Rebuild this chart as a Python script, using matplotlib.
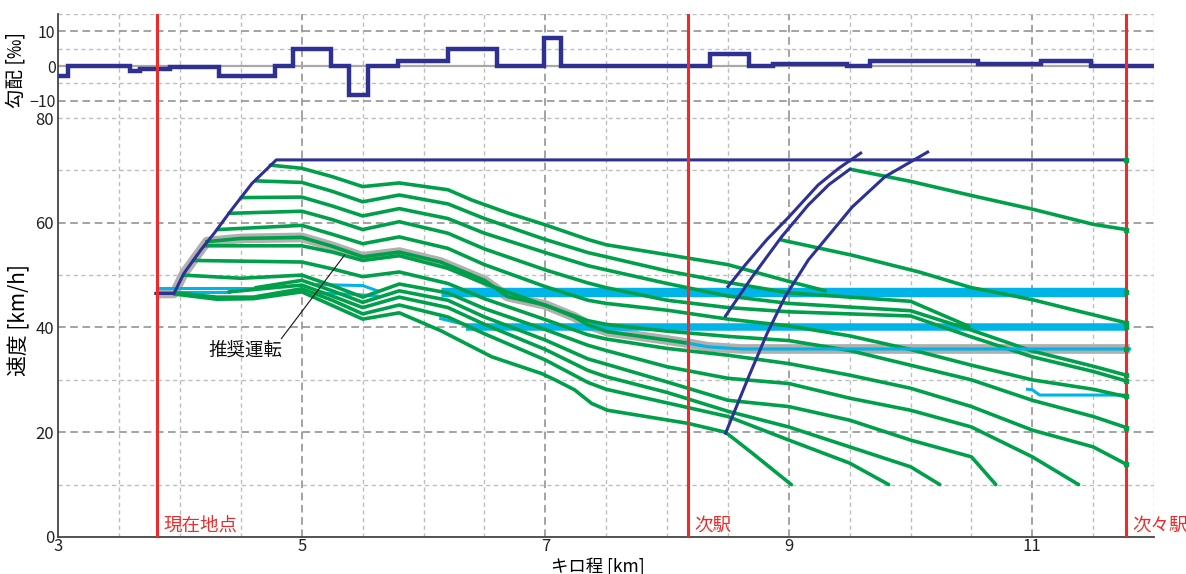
import matplotlib
matplotlib.use("Agg")
import matplotlib.pyplot as plt

plt.rcParams["font.family"] = ["Noto Sans CJK JP", "DejaVu Sans"]

# ---- colours ----
NAVY = "#2e3192"
GREEN = "#00a04a"
CYAN = "#00b4e8"
RED = "#ee2b2b"
HALO = "#b0b0b0"

# ---- gradient profile (step function, per mille) ----
GRAD_EDGES_KM = [3.0, 3.08, 3.59, 3.67, 3.92, 4.32, 4.78, 4.93, 5.24, 5.39, 5.54, 5.79,
                 6.20, 6.60, 6.99, 7.13, 8.35, 8.67, 8.87, 9.48, 9.67, 10.55, 11.07, 11.48, 12.0]
GRAD_PERMIL = [-3, 0, -1.5, -0.8, -0.3, -3, 0, 5, 0, -8.5, 0, 1.5,
               5, 0, 8, 0, 3.5, 0, 0.5, 0, 1.5, 0.5, 1.5, 0]

# ---- stations ----
STATION_KM = [3.81, 8.17, 11.77]
STATION_NAMES = ["現在地点", "次駅", "次々駅"]

# ---- speed limit / acceleration curve (navy) ----
LIMIT = [(3.80, 46.5), (3.95, 46.5), (4.03, 50.3), (4.17, 54.8), (4.28, 58.0),
         (4.42, 62.4), (4.59, 67.5), (4.79, 72.0), (11.77, 72.0)]
NAVY_A = [(8.50, 47.8), (8.64, 51.9), (8.82, 56.8), (9.00, 61.1), (9.24, 67.2), (9.41, 70.4),
          (9.59, 73.3)]
NAVY_B = [(8.48, 42.2), (8.70, 49.7), (8.94, 57.3), (9.16, 63.4), (9.33, 67.3), (9.50, 70.2)]
NAVY_C = [(8.48, 19.8), (8.67, 30.6), (8.82, 38.8), (8.97, 45.9), (9.16, 52.9), (9.52, 63.0),
          (9.79, 68.8), (10.14, 73.5)]

# ---- coasting curves (green) ----
U1 = [(4.74, 71.0), (5.0, 70.4), (5.25, 68.8), (5.5, 66.9), (5.8, 67.6), (6.2, 66.3), (6.4, 64.3),
      (6.7, 61.8), (7.0, 59.6), (7.35, 56.8), (7.5, 55.8), (8.0, 53.9), (8.5, 52.0), (9.0, 48.8),
      (9.3, 47.0)]
U2 = [(4.62, 68.0), (5.0, 67.7), (5.25, 66.0), (5.5, 64.0), (5.8, 65.3), (6.2, 63.6), (6.5, 60.8),
      (7.0, 56.8), (7.35, 54.3), (7.5, 53.5), (8.0, 50.8), (8.5, 48.6), (9.0, 46.6), (9.5, 45.8),
      (10.0, 45.0), (10.48, 40.2)]
U3 = [(4.50, 64.8), (5.0, 64.9), (5.25, 63.2), (5.5, 61.3), (5.8, 62.7), (6.2, 60.8), (6.5, 58.0),
      (7.0, 54.3), (7.35, 51.8), (7.5, 51.0), (8.0, 48.4), (8.5, 46.0), (9.0, 44.6), (9.5, 43.9),
      (10.0, 43.2), (10.5, 39.5), (11.0, 35.5), (11.5, 32.6), (11.77, 30.9)]
U4 = [(4.40, 61.8), (5.0, 62.2), (5.25, 60.6), (5.5, 58.7), (5.8, 60.2), (6.2, 58.0), (6.5, 55.0),
      (7.0, 51.0), (7.35, 48.5), (7.5, 47.6), (8.0, 45.2), (8.5, 43.8), (9.0, 43.0), (9.5, 42.6),
      (10.0, 42.2), (10.5, 38.2), (11.0, 34.4), (11.5, 31.6), (11.77, 29.8)]
U5 = [(4.31, 58.7), (5.0, 59.5), (5.25, 57.8), (5.5, 56.0), (5.8, 57.3), (6.2, 55.1), (6.5, 52.0),
      (7.0, 47.8), (7.35, 45.2), (7.5, 44.6), (8.0, 43.3), (8.5, 41.6), (9.0, 40.3), (9.5, 38.4),
      (10.0, 35.8), (10.5, 32.8), (11.0, 30.0), (11.5, 28.2), (11.77, 26.8)]
U7 = [(4.20, 55.6), (5.0, 55.6), (5.25, 54.4), (5.5, 52.8), (5.8, 53.7), (6.2, 51.3), (6.5, 48.4),
      (7.0, 44.2), (7.35, 41.3), (7.5, 40.6), (8.0, 39.3), (8.5, 38.3), (9.0, 37.5), (9.5, 35.6),
      (10.0, 32.8), (10.5, 30.0), (11.0, 26.1), (11.5, 23.0), (11.77, 20.9)]
U8 = [(4.11, 52.8), (5.0, 52.5), (5.25, 51.2), (5.5, 49.7), (5.8, 50.6), (6.2, 48.4), (6.5, 45.5),
      (7.0, 41.5), (7.35, 38.6), (7.5, 37.8), (8.0, 36.0), (8.5, 34.7), (9.0, 33.1), (9.5, 30.9),
      (10.0, 28.4), (10.5, 24.9), (11.0, 20.4), (11.5, 17.2), (11.77, 13.9)]
D1 = [(4.03, 50.0), (4.5, 49.4), (5.0, 50.0), (5.25, 48.0), (5.5, 45.8), (5.8, 48.3), (6.2, 46.6),
      (6.5, 43.6), (7.0, 39.6), (7.35, 36.6), (7.5, 35.6), (8.0, 32.5), (8.5, 30.3), (9.0, 29.3),
      (9.5, 26.5), (10.0, 24.2), (10.5, 21.0), (11.0, 15.3), (11.38, 10.0)]
D2 = [(4.62, 47.6), (5.0, 49.0), (5.25, 47.0), (5.5, 44.8), (5.8, 47.0), (6.2, 45.2), (6.5, 42.0),
      (7.0, 37.6), (7.35, 34.0), (7.5, 33.0), (8.0, 29.6), (8.5, 26.1), (9.0, 24.9), (9.5, 22.3),
      (10.0, 18.5), (10.5, 15.3), (10.70, 10.0)]
D3 = [(4.40, 46.8), (5.0, 48.1), (5.25, 46.0), (5.5, 43.8), (5.8, 45.8), (6.2, 43.8), (6.5, 40.6),
      (7.0, 35.8), (7.35, 31.8), (7.5, 30.6), (8.0, 27.6), (8.5, 24.0), (9.0, 21.0), (9.5, 17.2),
      (10.0, 13.4), (10.24, 10.0)]
D4 = [(3.97, 46.6), (4.3, 45.8), (4.6, 45.8), (5.0, 47.4), (5.25, 45.2), (5.5, 42.6), (5.8, 44.3),
      (6.2, 42.0), (6.5, 38.8), (7.0, 33.8), (7.35, 29.5), (7.5, 28.2), (8.0, 25.6), (8.5, 23.0),
      (9.0, 18.5), (9.5, 14.1), (9.82, 10.0)]
D5 = [(3.95, 46.4), (4.3, 45.4), (4.6, 45.5), (5.0, 46.8), (5.25, 44.2), (5.5, 41.6), (5.8, 42.8),
      (6.14, 39.4), (6.56, 34.4), (6.97, 31.2), (7.08, 30.0), (7.24, 28.1), (7.38, 25.5),
      (7.51, 24.2), (8.17, 21.7), (8.48, 20.0), (8.70, 16.0), (9.02, 10.0)]
M1 = [(8.94, 56.7), (9.52, 53.8), (10.07, 50.6), (10.5, 47.6), (10.75, 46.5), (11.02, 45.2),
      (11.4, 43.0), (11.77, 40.9)]
M2 = [(9.51, 70.2), (10.0, 67.9), (10.5, 65.2), (11.0, 62.6), (11.5, 59.7), (11.77, 58.7)]
COAST = [U1, U2, U3, U4, U5, U7, U8, D1, D2, D3, D4, D5, M1, M2]

# ---- recommended run (grey halo): accel, coast, cruise ----
REC_ACCEL = [(3.80, 46.5), (3.95, 46.5), (4.03, 50.3), (4.17, 54.8), (4.22, 56.4)]
REC_COAST = [(4.22, 56.4), (4.5, 57.0), (5.0, 57.2), (5.25, 55.5), (5.5, 53.5), (5.8, 54.4),
             (6.14, 52.5), (6.5, 49.0), (6.69, 45.9), (7.0, 44.3), (7.24, 42.0), (7.35, 40.5),
             (7.51, 39.2), (8.0, 37.6), (8.17, 37.0)]
REC_CRUISE = [(8.17, 37.0), (8.34, 36.3), (8.61, 35.9), (11.80, 35.9)]

# ---- constant-speed (cyan) segments ----
BAND_47 = [(6.14, 46.8), (11.77, 46.8)]
BAND_40 = [(6.35, 40.0), (11.77, 40.0)]
CRUISE_THIN = [
    [(3.81, 47.6), (4.62, 47.6)],
    [(3.81, 46.8), (4.40, 46.8)],
    [(5.13, 48.2), (5.50, 48.0), (5.62, 47.0)],
    [(5.13, 46.6), (5.45, 46.3), (5.62, 46.0)],
    [(6.14, 41.7), (6.42, 40.1)],
    [(10.96, 28.2), (11.00, 28.1), (11.06, 27.1), (11.77, 27.1)],
]
END_MARKS = [(11.77, 72.0), (11.77, 58.7), (11.77, 46.8), (11.77, 40.9), (11.77, 40.0),
             (11.77, 35.9), (11.77, 30.9), (11.77, 29.8), (11.77, 26.9), (11.77, 20.9),
             (11.77, 13.9)]


def xs(pts):
    return [p[0] for p in pts]


def ys(pts):
    return [p[1] for p in pts]


MAJ = dict(color="#8a8a8a", lw=1.1, ls=(0, (5, 3)), zorder=0.5)
MIN = dict(color="#bdbdbd", lw=1.0, ls=(0, (3, 2.5)), zorder=0.5)
X_MAJ = [5, 7, 9, 11]
X_MIN = [3.5, 4, 4.5, 5.5, 6, 6.5, 7.5, 8, 8.5, 9.5, 10, 10.5, 11.5, 12]

fig = plt.figure(figsize=(11.86, 5.74), dpi=100)
ax_g = fig.add_axes([0.0492, 0.7944, 0.9239, 0.1812])
ax = fig.add_axes([0.0492, 0.0645, 0.9239, 0.7299])

# ---------------- gradient panel ----------------
for x in X_MAJ:
    ax_g.axvline(x, **MAJ)
for x in X_MIN:
    ax_g.axvline(x, **MIN)
for y in [-10, 10]:
    ax_g.axhline(y, **MAJ)
for y in [-15, -5, 5, 15]:
    ax_g.axhline(y, **MIN)
ax_g.axhline(0, color="#a8a8a8", lw=1.6, zorder=1)
ax_g.stairs(GRAD_PERMIL, GRAD_EDGES_KM, baseline=None, color=NAVY, lw=3.2, zorder=3)
for k in STATION_KM:
    ax_g.axvline(k, color=RED, lw=2.2, zorder=4)
ax_g.set_xlim(3, 12)
ax_g.set_ylim(-15, 15)
ax_g.set_yticks([-10, 0, 10])
ax_g.set_xticks([])
for s in ["top", "right", "bottom"]:
    ax_g.spines[s].set_visible(False)
ax_g.spines["left"].set_color("#444444")
ax_g.spines["left"].set_linewidth(1.3)
ax_g.tick_params(axis="y", length=0, pad=2, labelsize=11.5, colors="#222222")

# ---------------- speed panel ----------------
for x in X_MAJ:
    ax.axvline(x, **MAJ)
for x in X_MIN:
    ax.axvline(x, **MIN)
for y in [20, 40, 60]:
    ax.axhline(y, **MAJ)
for y in [10, 30, 50, 70, 80]:
    ax.axhline(y, **MIN)

# recommended-run halo
rec_all = REC_ACCEL + REC_COAST[1:] + REC_CRUISE[1:]
ax.plot(xs(rec_all), ys(rec_all), color=HALO, lw=7, solid_capstyle="butt", zorder=1.5)

# cyan constant-speed segments
for band, w in [(BAND_47, 6.8), (BAND_40, 5.4)]:
    ax.plot(xs(band), ys(band), color=CYAN, lw=w, solid_capstyle="butt", zorder=2)
for seg in CRUISE_THIN:
    ax.plot(xs(seg), ys(seg), color=CYAN, lw=2.2, zorder=2.2)

# green coasting curves
for line in COAST:
    ax.plot(xs(line), ys(line), color=GREEN, lw=2.6, solid_capstyle="round", zorder=3)
ax.plot(xs(REC_COAST), ys(REC_COAST), color=GREEN, lw=2.6, zorder=3.1)
ax.plot(xs(REC_CRUISE), ys(REC_CRUISE), color=CYAN, lw=2.2, zorder=3.1)

# navy limit / acceleration curves
ax.plot(xs(LIMIT), ys(LIMIT), color=NAVY, lw=2.2, zorder=3.5)
for curve in [NAVY_A, NAVY_B, NAVY_C]:
    ax.plot(xs(curve), ys(curve), color=NAVY, lw=2.2, zorder=3.5)

# stations
for k, name in zip(STATION_KM, STATION_NAMES):
    ax.axvline(k, color=RED, lw=2.2, zorder=4)
    ax.text(k + 0.05, 0.5, name, color=RED, fontsize=13.3, ha="left", va="bottom",
            clip_on=False, zorder=6)

ax.plot(xs(END_MARKS), ys(END_MARKS), ls="none", marker="s", ms=3.5, color=GREEN, zorder=5)

ax.annotate("推奨運転", xy=(5.35, 53.8), xytext=(4.54, 35.6), fontsize=13.3,
            ha="center", va="center", color="#111111",
            arrowprops=dict(arrowstyle="-", color="#111111", lw=0.8,
                            relpos=(0.95, 1.0), shrinkA=0, shrinkB=0))

ax.set_xlim(3, 12)
ax.set_ylim(0, 80)
ax.set_xticks([3, 5, 7, 9, 11])
ax.set_yticks([0, 20, 40, 60, 80])
for s in ["top", "right"]:
    ax.spines[s].set_visible(False)
for s in ["left", "bottom"]:
    ax.spines[s].set_color("#444444")
    ax.spines[s].set_linewidth(1.3)
ax.tick_params(length=0, pad=3, labelsize=12, colors="#222222")
ax.tick_params(axis="x", pad=1)

fig.text(0.0135, 0.878, "勾配 [‰]", rotation=90, ha="center", va="center", fontsize=14)
fig.text(0.0165, 0.4425, "速度 [km/h]", rotation=90, ha="center", va="center", fontsize=15)
fig.text(0.504, -0.004, "キロ程 [km]", ha="center", va="bottom", fontsize=12.5)

fig.savefig("out.png", dpi=100)
